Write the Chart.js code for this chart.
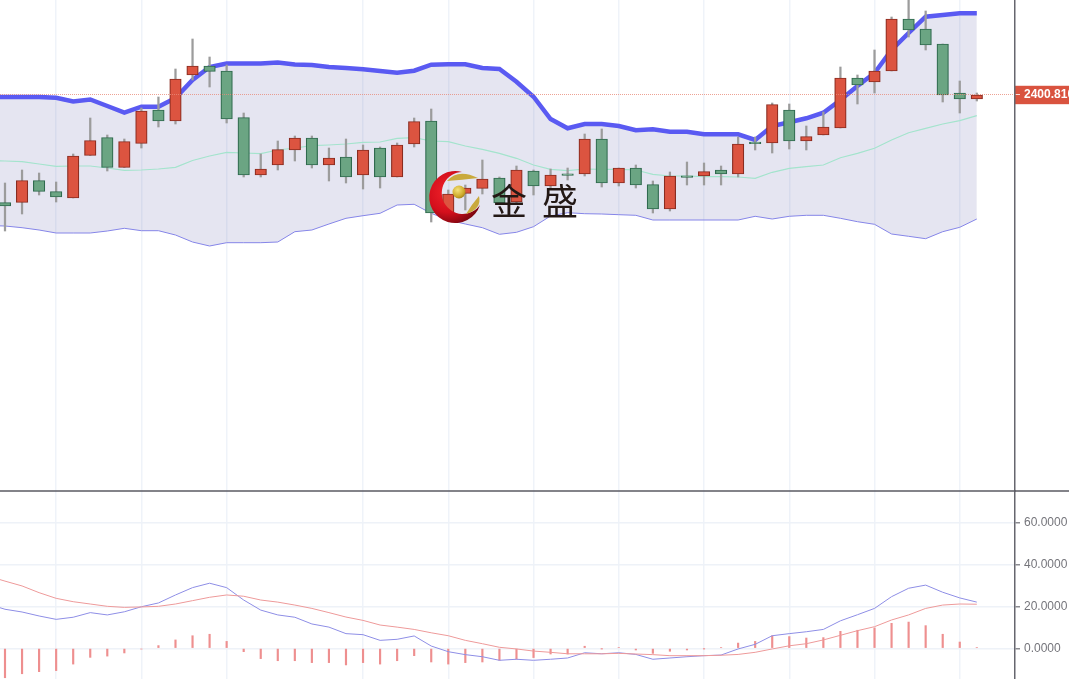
<!DOCTYPE html>
<html>
<head>
<meta charset="utf-8">
<title>K线图</title>
<script src="https://cdn.jsdelivr.net/npm/chart.js@4"></script>
<style>
  html, body { margin: 0; padding: 0; background: #fff; overflow: hidden; }
  #wrap { position: relative; width: 1069px; height: 679px; filter: blur(0.3px); }
  #logo { position: absolute; left: 0; top: 0; pointer-events: none; }
  .brand { position: absolute; top: 175px; font: 400 36px/48px "Noto Sans CJK SC", sans-serif; color: #231815; }
</style>
</head>
<body>
<div id="wrap">
  <canvas id="chartCanvas" width="1069" height="679"></canvas>
  <svg id="logo" width="1069" height="679">
    <defs>
      <radialGradient id="redGrad" gradientUnits="userSpaceOnUse" cx="448" cy="192" r="34">
        <stop offset="0" stop-color="#f2222a"/>
        <stop offset="0.6" stop-color="#d40f1c"/>
        <stop offset="1" stop-color="#7d0610"/>
      </radialGradient>
      <radialGradient id="ballGrad" cx="0.4" cy="0.35" r="0.7">
        <stop offset="0" stop-color="#f4e27a"/>
        <stop offset="0.7" stop-color="#cdaa2a"/>
        <stop offset="1" stop-color="#9a7c1a"/>
      </radialGradient>
    </defs>
    <path d="M462 172 A26 26 0 1 0 480 205 A21 21 0 1 1 462 172 Z" fill="url(#redGrad)"/>
    <path d="M447 181 Q458 168 478 178 Q462 180 447 181 Z" fill="#c9a93c"/>
    <path d="M479 196 Q482 209 466 214 Q472 204 479 196 Z" fill="#c9a93c"/>
    <circle cx="459" cy="192" r="6.5" fill="url(#ballGrad)"/>
  </svg>
  <span class="brand" style="left:491px">金</span>
  <span class="brand" style="left:542px">盛</span>
</div>
<script>
const opens = [2347.05, 2347.05, 2358.05, 2352.55, 2349.3, 2370.55, 2379.55, 2364.55, 2376.55, 2393.3, 2387.8, 2410.8, 2415.3, 2412.8, 2389.55, 2360.8, 2365.8, 2373.3, 2379.3, 2365.8, 2369.8, 2360.8, 2374.3, 2359.8, 2376.3, 2387.8, 2340.8, 2351.55, 2354.05, 2359.3, 2347.3, 2362.8, 2355.3, 2361.4, 2361.3, 2378.8, 2356.8, 2364.3, 2356.05, 2343.8, 2360.4, 2360.3, 2363.3, 2361.3, 2377.2, 2376.8, 2393.3, 2377.8, 2380.8, 2384.3, 2409.3, 2407.3, 2412.8, 2438.8, 2433.8, 2426.3, 2401.8, 2398.8];
const closes = [2345.3, 2358.05, 2352.55, 2349.8, 2370.3, 2378.05, 2364.55, 2377.55, 2392.8, 2387.8, 2408.8, 2415.3, 2412.55, 2388.8, 2360.8, 2363.8, 2373.55, 2379.3, 2365.8, 2369.3, 2359.8, 2373.3, 2359.8, 2375.8, 2387.55, 2341.8, 2351.3, 2354.3, 2358.8, 2346.8, 2363.3, 2355.3, 2360.8, 2360.65, 2378.8, 2356.8, 2364.3, 2355.8, 2343.8, 2360.3, 2359.65, 2362.55, 2361.3, 2376.3, 2376.45, 2396.05, 2377.8, 2380.05, 2384.8, 2409.3, 2405.8, 2412.8, 2438.8, 2433.3, 2425.8, 2400.8, 2398.8, 2400.8];
const highs = [2356.8, 2363.3, 2361.8, 2357.3, 2371.3, 2389.3, 2380.8, 2378.8, 2394.3, 2399.8, 2413.8, 2428.8, 2419.8, 2415.8, 2391.8, 2371.3, 2377.8, 2380.3, 2380.3, 2374.3, 2378.8, 2375.8, 2374.8, 2376.8, 2389.3, 2393.8, 2353.3, 2355.8, 2368.3, 2359.8, 2365.3, 2363.3, 2363.8, 2364.3, 2381.3, 2383.8, 2364.3, 2365.8, 2357.8, 2362.3, 2367.3, 2366.8, 2365.3, 2379.8, 2379.8, 2396.8, 2396.3, 2385.3, 2392.3, 2414.8, 2410.8, 2423.3, 2439.8, 2449.8, 2442.8, 2426.3, 2407.8, 2401.8];
const lows = [2332.8, 2341.3, 2350.8, 2347.3, 2349.3, 2370.55, 2362.8, 2364.55, 2374.3, 2384.8, 2386.3, 2408.3, 2404.8, 2386.8, 2359.8, 2359.8, 2363.3, 2367.8, 2364.3, 2357.8, 2356.8, 2353.8, 2354.3, 2359.8, 2374.8, 2337.3, 2339.3, 2343.3, 2351.3, 2346.8, 2346.8, 2350.8, 2354.3, 2358.3, 2360.3, 2354.8, 2355.3, 2354.3, 2341.8, 2342.8, 2355.8, 2355.8, 2355.8, 2359.8, 2373.3, 2371.8, 2373.8, 2373.3, 2380.8, 2384.3, 2396.3, 2401.8, 2412.8, 2429.8, 2423.3, 2397.3, 2391.8, 2397.8];

// bands and macd lines start one candle earlier, it is off the left edge
const bollUpper = [2399.9, 2399.8, 2399.8, 2399.8, 2399.45, 2397.55, 2398.55, 2395.3, 2391.95, 2394.95, 2394.95, 2399.3, 2408.3, 2414.8, 2416.55, 2416.55, 2416.55, 2417.05, 2416.05, 2415.8, 2414.8, 2414.3, 2413.65, 2412.8, 2411.95, 2412.95, 2415.95, 2416.15, 2416.15, 2414.3, 2413.8, 2407.45, 2399.95, 2388.8, 2384.15, 2386.3, 2386.3, 2385.3, 2383.15, 2383.65, 2382.45, 2382.45, 2381.15, 2381.15, 2381.15, 2378.3, 2385.3, 2387.15, 2389.15, 2391.95, 2398.3, 2405.3, 2411.8, 2423.3, 2431.8, 2439.95, 2440.8, 2441.65, 2441.65];
const bollMid = [2367.9, 2367.8, 2367.45, 2366.3, 2365.15, 2365.3, 2365.3, 2364.3, 2363.15, 2363.3, 2363.8, 2364.65, 2368.05, 2370.3, 2372.15, 2371.8, 2371.45, 2373.3, 2374.3, 2375.45, 2375.8, 2376.3, 2377.15, 2377.3, 2379.15, 2379.45, 2377.8, 2377.45, 2375.3, 2373.65, 2371.65, 2369.15, 2365.8, 2363.65, 2362.95, 2363.8, 2363.65, 2363.65, 2363.3, 2361.15, 2360.3, 2360.3, 2359.95, 2359.95, 2359.8, 2359.15, 2362.15, 2364.15, 2364.95, 2365.8, 2369.45, 2371.65, 2374.15, 2378.3, 2381.95, 2384.15, 2386.3, 2387.95, 2390.45];
const bollLower = [2335.5, 2335.3, 2334.45, 2333.3, 2331.8, 2331.8, 2331.8, 2332.8, 2334.15, 2332.95, 2332.95, 2330.8, 2327.3, 2325.3, 2326.95, 2326.95, 2326.95, 2327.3, 2332.45, 2333.3, 2336.3, 2339.15, 2340.45, 2341.65, 2345.8, 2346.15, 2341.65, 2338.3, 2336.3, 2334.45, 2331.15, 2332.15, 2334.95, 2340.3, 2341.95, 2341.45, 2341.3, 2340.95, 2340.65, 2338.3, 2338.3, 2338.3, 2338.3, 2338.3, 2338.3, 2340.15, 2338.8, 2340.15, 2340.65, 2340.65, 2339.15, 2337.45, 2336.15, 2331.3, 2330.15, 2328.95, 2332.45, 2334.65, 2338.8];
const dif = [21.1, 18.6, 17.3, 15.4, 13.8, 14.8, 17.0, 15.9, 17.4, 19.8, 21.6, 25.4, 28.9, 31.0, 28.9, 23.0, 18.2, 15.9, 14.8, 11.6, 10.1, 7.0, 6.5, 3.8, 4.3, 5.9, 1.1, -1.6, -3.0, -4.0, -5.7, -5.2, -5.7, -5.2, -4.6, -2.1, -2.6, -2.1, -2.9, -5.2, -4.6, -4.0, -3.5, -3.2, -0.3, 1.9, 6.0, 7.0, 7.9, 9.0, 13.1, 16.0, 19.0, 24.6, 28.6, 30.1, 26.7, 24.0, 22.0];
const dea = [34.4, 32.0, 29.7, 26.5, 23.8, 22.2, 21.1, 20.0, 19.5, 19.7, 20.0, 21.1, 22.7, 24.3, 25.4, 24.8, 23.0, 22.0, 20.6, 19.0, 17.0, 14.9, 13.3, 11.1, 10.1, 9.0, 7.4, 6.0, 3.8, 2.2, 0.5, -0.3, -1.3, -1.9, -2.6, -2.6, -2.6, -2.4, -2.7, -3.0, -3.5, -3.5, -3.5, -3.3, -2.9, -1.9, -0.3, 1.2, 2.2, 4.0, 6.2, 8.4, 10.3, 13.5, 15.9, 19.0, 20.6, 21.1, 21.0];
const macdHist = [-14.0, -12.1, -11.1, -10.6, -7.5, -4.3, -3.7, -2.2, -0.3, 1.3, 4.0, 6.0, 6.7, 3.3, -1.6, -4.9, -5.9, -5.9, -6.8, -6.8, -7.9, -6.8, -7.5, -5.9, -3.5, -6.5, -7.5, -6.8, -6.5, -5.7, -5.2, -4.4, -2.7, -2.7, 1.0, -0.1, 0.3, -0.8, -2.4, -1.4, -0.8, -0.1, 0.3, 2.5, 3.3, 6.0, 5.6, 4.9, 5.1, 8.1, 8.6, 9.7, 11.9, 12.5, 10.8, 6.7, 3.0, 0.3];

const lastPrice = 2400.81;
const macdTicks = [0, 20, 40, 60];
const gridCandles = [3, 8, 13, 21, 26, 31, 36, 41, 46, 51, 56];

const upColor = "#dc5440", downColor = "#6ba583";
const upEdge = "#8a2c20", downEdge = "#2f6a4e";
const isUp = (i) => closes[i] >= opens[i];

const bars = (values) => values.map((v, i) => ({ x: i, y: v }));
const lineFrom = (values) => values.map((v, i) => ({ x: i - 1, y: v }));

const dividerPlugin = {
  id: "divider",
  afterDraw(chart) {
    const ctx = chart.ctx;
    const y = chart.scales.macd.top;
    ctx.save();
    ctx.strokeStyle = "#5a5a62";
    ctx.lineWidth = 1.5;
    ctx.beginPath();
    ctx.moveTo(0, y);
    ctx.lineTo(chart.width, y);
    ctx.stroke();
    ctx.restore();
  },
};

const fixWidth = (axis) => {
  axis.width = 54;
  axis.paddingTop = 0;
  axis.paddingBottom = 0;
};

new Chart(document.getElementById("chartCanvas").getContext("2d"), {
  type: "bar",
  data: {
    datasets: [
      {
        type: "line", yAxisID: "price", order: 5, data: lineFrom(bollUpper),
        borderColor: "#5a5af2", borderWidth: 4.5, pointRadius: 0, tension: 0,
        fill: { target: "+2" }, backgroundColor: "rgba(100,100,170,0.17)",
      },
      {
        type: "line", yAxisID: "price", order: 4, data: lineFrom(bollMid),
        borderColor: "#a4e4cd", borderWidth: 1.2, pointRadius: 0, tension: 0, fill: false,
      },
      {
        type: "line", yAxisID: "price", order: 4, data: lineFrom(bollLower),
        borderColor: "#8585e8", borderWidth: 1, pointRadius: 0, tension: 0, fill: false,
      },
      {
        yAxisID: "price", order: 2, grouped: false, barThickness: 1.6,
        data: bars(highs.map((h, i) => [lows[i], h])),
        backgroundColor: "#9c9c9c",
      },
      {
        yAxisID: "price", order: 1, grouped: false, barThickness: 11.5,
        data: bars(opens.map((o, i) => [o, closes[i]])),
        backgroundColor: opens.map((_, i) => (isUp(i) ? upColor : downColor)),
        borderColor: opens.map((_, i) => (isUp(i) ? upEdge : downEdge)),
        borderWidth: 1.2, borderSkipped: false,
      },
      {
        yAxisID: "macd", order: 3, grouped: false, barThickness: 1.5,
        data: bars(macdHist), backgroundColor: "#ee8f8f",
      },
      {
        type: "line", yAxisID: "macd", order: 1, data: lineFrom(dea),
        borderColor: "#ee9a9a", borderWidth: 1, pointRadius: 0, tension: 0, fill: false,
      },
      {
        type: "line", yAxisID: "macd", order: 1, data: lineFrom(dif),
        borderColor: "#8e8ee6", borderWidth: 1, pointRadius: 0, tension: 0, fill: false,
      },
    ],
  },
  options: {
    responsive: false,
    animation: false,
    layout: { padding: 0 },
    plugins: { legend: { display: false }, tooltip: { enabled: false } },
    scales: {
      x: {
        type: "linear",
        offset: false,
        min: -0.293,
        max: 59.24,
        afterBuildTicks: (axis) => { axis.ticks = gridCandles.map((value) => ({ value })); },
        ticks: { display: false },
        border: { display: false },
        grid: { color: "#eff3f9", lineWidth: 1.5, drawTicks: false, offset: false },
      },
      price: {
        position: "right",
        stack: "panes",
        stackWeight: 491,
        min: 2202.8,
        max: 2448.3,
        afterBuildTicks: (axis) => { axis.ticks = [{ value: lastPrice }]; },
        afterFit: fixWidth,
        ticks: {
          autoSkip: false,
          padding: 4,
          color: "#ffffff",
          font: { family: "Liberation Sans", size: 12, weight: "bold" },
          callback: (v) => v.toFixed(3),
          showLabelBackdrop: true,
          backdropColor: "#d9533f",
          backdropPadding: { left: 10, right: 10, top: 2, bottom: 2 },
        },
        border: { color: "#66666e", width: 1.5, dash: [1, 1], z: 1 },
        grid: { color: "#e88a78", lineWidth: 0.8, z: 1, tickColor: "#ffffff", tickLength: 5 },
      },
      macd: {
        position: "right",
        stack: "panes",
        stackWeight: 188,
        min: -14.6,
        max: 74.9,
        afterBuildTicks: (axis) => { axis.ticks = macdTicks.map((value) => ({ value })); },
        afterFit: fixWidth,
        ticks: {
          autoSkip: false,
          padding: 4,
          color: "#75757b",
          font: { family: "Liberation Sans", size: 12 },
          callback: (v) => v.toFixed(4),
        },
        border: { color: "#66666e", width: 1.5 },
        grid: { color: "#eef2f8", lineWidth: 1.5, tickColor: "#8a8a90", tickLength: 5 },
      },
    },
  },
  plugins: [dividerPlugin],
});
</script>
</body>
</html>
